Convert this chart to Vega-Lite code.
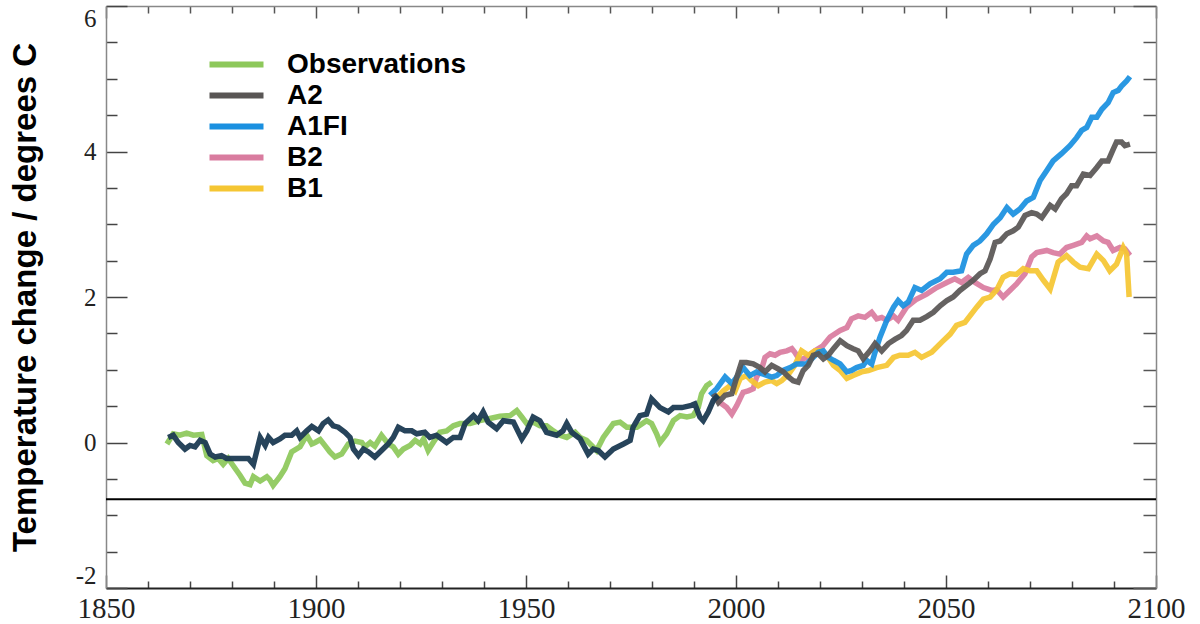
{
"$schema":"https://vega.github.io/schema/vega-lite/v6.json",
"width":1050,"height":582,
"autosize":{"type":"none"},
"padding":{"left":106,"top":6,"right":44,"bottom":36},
"background":"white",
"config":{"view":{"stroke":null},"axis":{"grid":false}},
"datasets":{
"obs":[
{"series":"Observations","year":1864.5,"temp":-0.02},{"series":"Observations","year":1866,"temp":0.12},{"series":"Observations","year":1867.6,"temp":0.10},{"series":"Observations","year":1869.2,"temp":0.13},{"series":"Observations","year":1870.8,"temp":0.10},{"series":"Observations","year":1872.8,"temp":0.11},{"series":"Observations","year":1874,"temp":-0.18},{"series":"Observations","year":1875.5,"temp":-0.25},{"series":"Observations","year":1876.7,"temp":-0.22},{"series":"Observations","year":1877.9,"temp":-0.30},{"series":"Observations","year":1879.1,"temp":-0.22},{"series":"Observations","year":1880.3,"temp":-0.32},{"series":"Observations","year":1881.9,"temp":-0.45},{"series":"Observations","year":1883.1,"temp":-0.56},{"series":"Observations","year":1884.3,"temp":-0.58},{"series":"Observations","year":1885.1,"temp":-0.47},{"series":"Observations","year":1886.7,"temp":-0.53},{"series":"Observations","year":1888.3,"temp":-0.47},{"series":"Observations","year":1889,"temp":-0.51},{"series":"Observations","year":1889.8,"temp":-0.59},{"series":"Observations","year":1891.4,"temp":-0.47},{"series":"Observations","year":1892.6,"temp":-0.36},{"series":"Observations","year":1894.2,"temp":-0.13},{"series":"Observations","year":1896.2,"temp":-0.06},{"series":"Observations","year":1897.8,"temp":0.10},{"series":"Observations","year":1899,"temp":-0.02},{"series":"Observations","year":1899.8,"temp":0},{"series":"Observations","year":1901,"temp":0.04},{"series":"Observations","year":1902.1,"temp":-0.04},{"series":"Observations","year":1903.3,"temp":-0.13},{"series":"Observations","year":1904.5,"temp":-0.20},{"series":"Observations","year":1906.1,"temp":-0.16},{"series":"Observations","year":1907.7,"temp":-0.02},{"series":"Observations","year":1909.3,"temp":0.02},{"series":"Observations","year":1910.9,"temp":0},{"series":"Observations","year":1911.7,"temp":-0.06},{"series":"Observations","year":1912.9,"temp":0},{"series":"Observations","year":1914,"temp":-0.05},{"series":"Observations","year":1915.6,"temp":0.10},{"series":"Observations","year":1917.2,"temp":-0.02},{"series":"Observations","year":1918.4,"temp":-0.06},{"series":"Observations","year":1919.6,"temp":-0.16},{"series":"Observations","year":1920.8,"temp":-0.09},{"series":"Observations","year":1922.4,"temp":-0.04},{"series":"Observations","year":1923.6,"temp":0.03},{"series":"Observations","year":1924.8,"temp":-0.02},{"series":"Observations","year":1925.6,"temp":0.05},{"series":"Observations","year":1926.7,"temp":-0.11},{"series":"Observations","year":1927.9,"temp":0},{"series":"Observations","year":1929.5,"temp":0.14},{"series":"Observations","year":1931.1,"temp":0.16},{"series":"Observations","year":1932.7,"temp":0.23},{"series":"Observations","year":1934.3,"temp":0.26},{"series":"Observations","year":1936.7,"temp":0.26},{"series":"Observations","year":1939,"temp":0.30},{"series":"Observations","year":1941.4,"temp":0.33},{"series":"Observations","year":1943.8,"temp":0.36},{"series":"Observations","year":1946.2,"temp":0.37},{"series":"Observations","year":1947.8,"temp":0.44},{"series":"Observations","year":1949,"temp":0.35},{"series":"Observations","year":1950.2,"temp":0.26},{"series":"Observations","year":1951.7,"temp":0.28},{"series":"Observations","year":1953.3,"temp":0.23},{"series":"Observations","year":1954.9,"temp":0.23},{"series":"Observations","year":1956.5,"temp":0.16},{"series":"Observations","year":1958.1,"temp":0.10},{"series":"Observations","year":1959.7,"temp":0.07},{"series":"Observations","year":1961.7,"temp":0.14},{"series":"Observations","year":1962.9,"temp":0.07},{"series":"Observations","year":1964.4,"temp":0.03},{"series":"Observations","year":1966.8,"temp":-0.11},{"series":"Observations","year":1968.4,"temp":0.07},{"series":"Observations","year":1970.8,"temp":0.26},{"series":"Observations","year":1972.4,"temp":0.28},{"series":"Observations","year":1974,"temp":0.21},{"series":"Observations","year":1976.4,"temp":0.21},{"series":"Observations","year":1978.7,"temp":0.30},{"series":"Observations","year":1979.9,"temp":0.26},{"series":"Observations","year":1981.1,"temp":0.12},{"series":"Observations","year":1981.9,"temp":0},{"series":"Observations","year":1983.5,"temp":0.12},{"series":"Observations","year":1985.1,"temp":0.30},{"series":"Observations","year":1986.7,"temp":0.37},{"series":"Observations","year":1988.3,"temp":0.35},{"series":"Observations","year":1989.8,"temp":0.37},{"series":"Observations","year":1991,"temp":0.48},{"series":"Observations","year":1991.8,"temp":0.67},{"series":"Observations","year":1993,"temp":0.78},{"series":"Observations","year":1994.2,"temp":0.83},
{"series":"B2","year":1994.6,"temp":0.67},{"series":"B2","year":1996.2,"temp":0.55},{"series":"B2","year":1997.8,"temp":0.48},{"series":"B2","year":1999.0,"temp":0.39},{"series":"B2","year":2000.2,"temp":0.51},{"series":"B2","year":2001.7,"temp":0.69},{"series":"B2","year":2002.9,"temp":0.71},{"series":"B2","year":2004.1,"temp":0.74},{"series":"B2","year":2004.9,"temp":0.90},{"series":"B2","year":2006.1,"temp":1.01},{"series":"B2","year":2006.9,"temp":1.17},{"series":"B2","year":2008.1,"temp":1.22},{"series":"B2","year":2009.3,"temp":1.20},{"series":"B2","year":2010.5,"temp":1.24},{"series":"B2","year":2012.1,"temp":1.26},{"series":"B2","year":2013.3,"temp":1.29},{"series":"B2","year":2014.0,"temp":1.24},{"series":"B2","year":2015.2,"temp":1.13},{"series":"B2","year":2016.8,"temp":1.17},{"series":"B2","year":2018.8,"temp":1.26},{"series":"B2","year":2020.7,"temp":1.33},{"series":"B2","year":2022.4,"temp":1.45},{"series":"B2","year":2024.8,"temp":1.54},{"series":"B2","year":2026.4,"temp":1.58},{"series":"B2","year":2027.5,"temp":1.70},{"series":"B2","year":2029.1,"temp":1.74},{"series":"B2","year":2030.7,"temp":1.72},{"series":"B2","year":2032.3,"temp":1.79},{"series":"B2","year":2033.5,"temp":1.70},{"series":"B2","year":2034.7,"temp":1.72},{"series":"B2","year":2035.9,"temp":1.68},{"series":"B2","year":2037.5,"temp":1.74},{"series":"B2","year":2038.6,"temp":1.68},{"series":"B2","year":2040.6,"temp":1.86},{"series":"B2","year":2043.0,"temp":1.97},{"series":"B2","year":2045.4,"temp":2.04},{"series":"B2","year":2047.8,"temp":2.13},{"series":"B2","year":2050.2,"temp":2.20},{"series":"B2","year":2052.1,"temp":2.25},{"series":"B2","year":2053.7,"temp":2.20},{"series":"B2","year":2055.3,"temp":2.27},{"series":"B2","year":2056.9,"temp":2.20},{"series":"B2","year":2058.9,"temp":2.13},{"series":"B2","year":2060.9,"temp":2.09},{"series":"B2","year":2062.1,"temp":2.10},{"series":"B2","year":2063.6,"temp":2.00},{"series":"B2","year":2065.2,"temp":2.09},{"series":"B2","year":2066.8,"temp":2.18},{"series":"B2","year":2068.8,"temp":2.32},{"series":"B2","year":2070.4,"temp":2.55},{"series":"B2","year":2071.6,"temp":2.61},{"series":"B2","year":2074.0,"temp":2.64},{"series":"B2","year":2075.5,"temp":2.61},{"series":"B2","year":2077.1,"temp":2.59},{"series":"B2","year":2078.7,"temp":2.68},{"series":"B2","year":2080.3,"temp":2.71},{"series":"B2","year":2082.3,"temp":2.75},{"series":"B2","year":2083.5,"temp":2.84},{"series":"B2","year":2084.3,"temp":2.80},{"series":"B2","year":2085.9,"temp":2.84},{"series":"B2","year":2087.5,"temp":2.77},{"series":"B2","year":2088.6,"temp":2.75},{"series":"B2","year":2089.8,"temp":2.64},{"series":"B2","year":2091.4,"temp":2.68},{"series":"B2","year":2092.6,"temp":2.66},{"series":"B2","year":2093.8,"temp":2.57},
{"series":"B1","year":1995.4,"temp":0.62},{"series":"B1","year":1997.0,"temp":0.71},{"series":"B1","year":1998.6,"temp":0.78},{"series":"B1","year":1999.8,"temp":0.71},{"series":"B1","year":2001.0,"temp":0.88},{"series":"B1","year":2002.5,"temp":0.92},{"series":"B1","year":2003.7,"temp":0.85},{"series":"B1","year":2005.3,"temp":0.78},{"series":"B1","year":2006.9,"temp":0.83},{"series":"B1","year":2008.5,"temp":0.85},{"series":"B1","year":2009.7,"temp":0.81},{"series":"B1","year":2010.9,"temp":0.85},{"series":"B1","year":2012.5,"temp":0.94},{"series":"B1","year":2014.0,"temp":1.06},{"series":"B1","year":2015.6,"temp":1.26},{"series":"B1","year":2017.2,"temp":1.20},{"series":"B1","year":2018.8,"temp":1.26},{"series":"B1","year":2020.0,"temp":1.26},{"series":"B1","year":2021.6,"temp":1.20},{"series":"B1","year":2023.2,"temp":1.06},{"series":"B1","year":2024.8,"temp":0.99},{"series":"B1","year":2026.4,"temp":0.88},{"series":"B1","year":2027.9,"temp":0.92},{"series":"B1","year":2029.9,"temp":0.97},{"series":"B1","year":2031.5,"temp":0.99},{"series":"B1","year":2033.5,"temp":1.03},{"series":"B1","year":2035.9,"temp":1.06},{"series":"B1","year":2037.5,"temp":1.17},{"series":"B1","year":2039.0,"temp":1.20},{"series":"B1","year":2041.0,"temp":1.20},{"series":"B1","year":2042.6,"temp":1.24},{"series":"B1","year":2044.2,"temp":1.17},{"series":"B1","year":2046.6,"temp":1.24},{"series":"B1","year":2049.0,"temp":1.38},{"series":"B1","year":2051.0,"temp":1.49},{"series":"B1","year":2052.5,"temp":1.61},{"series":"B1","year":2054.5,"temp":1.65},{"series":"B1","year":2055.7,"temp":1.74},{"series":"B1","year":2057.3,"temp":1.86},{"series":"B1","year":2058.9,"temp":1.97},{"series":"B1","year":2060.5,"temp":2.00},{"series":"B1","year":2062.1,"temp":2.10},{"series":"B1","year":2063.6,"temp":2.27},{"series":"B1","year":2065.2,"temp":2.32},{"series":"B1","year":2066.8,"temp":2.31},{"series":"B1","year":2068.4,"temp":2.39},{"series":"B1","year":2070.0,"temp":2.36},{"series":"B1","year":2071.6,"temp":2.36},{"series":"B1","year":2073.2,"temp":2.23},{"series":"B1","year":2074.8,"temp":2.11},{"series":"B1","year":2076.7,"temp":2.48},{"series":"B1","year":2078.7,"temp":2.57},{"series":"B1","year":2080.3,"temp":2.48},{"series":"B1","year":2081.9,"temp":2.41},{"series":"B1","year":2083.9,"temp":2.39},{"series":"B1","year":2085.9,"temp":2.59},{"series":"B1","year":2087.5,"temp":2.50},{"series":"B1","year":2089.0,"temp":2.36},{"series":"B1","year":2090.6,"temp":2.45},{"series":"B1","year":2092.2,"temp":2.68},{"series":"B1","year":2093.0,"temp":2.59},{"series":"B1","year":2093.6,"temp":2.00},
{"series":"A1FI","year":1993.8,"temp":0.65},{"series":"A1FI","year":1995.4,"temp":0.74},{"series":"A1FI","year":1997.4,"temp":0.90},{"series":"A1FI","year":1999.0,"temp":0.81},{"series":"A1FI","year":2000.2,"temp":0.90},{"series":"A1FI","year":2001.7,"temp":1.03},{"series":"A1FI","year":2003.3,"temp":0.92},{"series":"A1FI","year":2004.9,"temp":0.97},{"series":"A1FI","year":2006.5,"temp":0.94},{"series":"A1FI","year":2008.5,"temp":0.90},{"series":"A1FI","year":2009.7,"temp":0.92},{"series":"A1FI","year":2011.2,"temp":0.99},{"series":"A1FI","year":2012.9,"temp":1.03},{"series":"A1FI","year":2014.4,"temp":1.08},{"series":"A1FI","year":2016.8,"temp":1.08},{"series":"A1FI","year":2018.4,"temp":1.17},{"series":"A1FI","year":2019.6,"temp":1.24},{"series":"A1FI","year":2020.8,"temp":1.26},{"series":"A1FI","year":2022.0,"temp":1.17},{"series":"A1FI","year":2023.2,"temp":1.13},{"series":"A1FI","year":2024.8,"temp":1.08},{"series":"A1FI","year":2026.4,"temp":0.97},{"series":"A1FI","year":2027.5,"temp":0.99},{"series":"A1FI","year":2028.7,"temp":1.03},{"series":"A1FI","year":2030.3,"temp":1.06},{"series":"A1FI","year":2031.1,"temp":1.13},{"series":"A1FI","year":2032.3,"temp":1.08},{"series":"A1FI","year":2033.1,"temp":1.24},{"series":"A1FI","year":2034.3,"temp":1.45},{"series":"A1FI","year":2035.9,"temp":1.68},{"series":"A1FI","year":2037.5,"temp":1.86},{"series":"A1FI","year":2038.6,"temp":1.95},{"series":"A1FI","year":2039.8,"temp":1.88},{"series":"A1FI","year":2041.0,"temp":1.93},{"series":"A1FI","year":2042.6,"temp":2.13},{"series":"A1FI","year":2044.2,"temp":2.09},{"series":"A1FI","year":2046.2,"temp":2.18},{"series":"A1FI","year":2048.6,"temp":2.25},{"series":"A1FI","year":2050.2,"temp":2.34},{"series":"A1FI","year":2051.7,"temp":2.34},{"series":"A1FI","year":2053.7,"temp":2.36},{"series":"A1FI","year":2054.9,"temp":2.59},{"series":"A1FI","year":2056.5,"temp":2.71},{"series":"A1FI","year":2058.1,"temp":2.77},{"series":"A1FI","year":2059.7,"temp":2.87},{"series":"A1FI","year":2061.3,"temp":3.00},{"series":"A1FI","year":2062.9,"temp":3.09},{"series":"A1FI","year":2064.5,"temp":3.23},{"series":"A1FI","year":2066.0,"temp":3.14},{"series":"A1FI","year":2067.6,"temp":3.21},{"series":"A1FI","year":2069.2,"temp":3.32},{"series":"A1FI","year":2070.8,"temp":3.37},{"series":"A1FI","year":2072.4,"temp":3.60},{"series":"A1FI","year":2074.0,"temp":3.74},{"series":"A1FI","year":2075.5,"temp":3.87},{"series":"A1FI","year":2077.5,"temp":3.97},{"series":"A1FI","year":2079.5,"temp":4.08},{"series":"A1FI","year":2081.1,"temp":4.19},{"series":"A1FI","year":2082.3,"temp":4.29},{"series":"A1FI","year":2083.5,"temp":4.33},{"series":"A1FI","year":2084.7,"temp":4.47},{"series":"A1FI","year":2085.9,"temp":4.47},{"series":"A1FI","year":2087.1,"temp":4.58},{"series":"A1FI","year":2088.6,"temp":4.67},{"series":"A1FI","year":2089.8,"temp":4.81},{"series":"A1FI","year":2091.0,"temp":4.84},{"series":"A1FI","year":2091.8,"temp":4.90},{"series":"A1FI","year":2093.0,"temp":4.97},{"series":"A1FI","year":2093.8,"temp":5.03},
{"series":"A2","year":1994.6,"temp":0.67},{"series":"A2","year":1995.8,"temp":0.55},{"series":"A2","year":1997.4,"temp":0.65},{"series":"A2","year":1999.0,"temp":0.67},{"series":"A2","year":2000.2,"temp":0.90},{"series":"A2","year":2001.3,"temp":1.10},{"series":"A2","year":2002.5,"temp":1.10},{"series":"A2","year":2004.1,"temp":1.08},{"series":"A2","year":2005.7,"temp":1.03},{"series":"A2","year":2006.9,"temp":0.97},{"series":"A2","year":2008.5,"temp":1.06},{"series":"A2","year":2010.1,"temp":1.01},{"series":"A2","year":2011.3,"temp":0.97},{"series":"A2","year":2012.5,"temp":0.90},{"series":"A2","year":2013.6,"temp":0.85},{"series":"A2","year":2014.8,"temp":0.83},{"series":"A2","year":2016.0,"temp":0.99},{"series":"A2","year":2017.2,"temp":1.06},{"series":"A2","year":2018.4,"temp":1.20},{"series":"A2","year":2019.6,"temp":1.22},{"series":"A2","year":2020.8,"temp":1.15},{"series":"A2","year":2022.0,"temp":1.20},{"series":"A2","year":2023.2,"temp":1.29},{"series":"A2","year":2024.8,"temp":1.40},{"series":"A2","year":2026.4,"temp":1.33},{"series":"A2","year":2027.9,"temp":1.29},{"series":"A2","year":2029.1,"temp":1.26},{"series":"A2","year":2030.3,"temp":1.15},{"series":"A2","year":2031.9,"temp":1.26},{"series":"A2","year":2033.1,"temp":1.36},{"series":"A2","year":2034.7,"temp":1.26},{"series":"A2","year":2036.3,"temp":1.36},{"series":"A2","year":2037.9,"temp":1.42},{"series":"A2","year":2039.4,"temp":1.47},{"series":"A2","year":2040.6,"temp":1.54},{"series":"A2","year":2042.2,"temp":1.68},{"series":"A2","year":2043.8,"temp":1.68},{"series":"A2","year":2045.4,"temp":1.73},{"series":"A2","year":2047.0,"temp":1.79},{"series":"A2","year":2048.6,"temp":1.88},{"series":"A2","year":2050.2,"temp":1.95},{"series":"A2","year":2051.7,"temp":2.00},{"series":"A2","year":2053.3,"temp":2.09},{"series":"A2","year":2054.9,"temp":2.16},{"series":"A2","year":2056.5,"temp":2.23},{"series":"A2","year":2058.1,"temp":2.32},{"series":"A2","year":2059.3,"temp":2.36},{"series":"A2","year":2060.5,"temp":2.52},{"series":"A2","year":2061.7,"temp":2.75},{"series":"A2","year":2062.9,"temp":2.77},{"series":"A2","year":2064.5,"temp":2.87},{"series":"A2","year":2066.0,"temp":2.91},{"series":"A2","year":2067.2,"temp":2.96},{"series":"A2","year":2068.8,"temp":3.12},{"series":"A2","year":2070.4,"temp":3.16},{"series":"A2","year":2071.6,"temp":3.14},{"series":"A2","year":2072.8,"temp":3.09},{"series":"A2","year":2074.8,"temp":3.26},{"series":"A2","year":2076.0,"temp":3.21},{"series":"A2","year":2077.5,"temp":3.35},{"series":"A2","year":2078.7,"temp":3.42},{"series":"A2","year":2079.9,"temp":3.53},{"series":"A2","year":2081.1,"temp":3.53},{"series":"A2","year":2082.7,"temp":3.69},{"series":"A2","year":2084.3,"temp":3.67},{"series":"A2","year":2085.9,"temp":3.78},{"series":"A2","year":2087.1,"temp":3.87},{"series":"A2","year":2088.6,"temp":3.87},{"series":"A2","year":2089.8,"temp":4.03},{"series":"A2","year":2090.6,"temp":4.13},{"series":"A2","year":2091.8,"temp":4.13},{"series":"A2","year":2092.6,"temp":4.08},{"series":"A2","year":2093.8,"temp":4.10}
],
"model":[
{"series":"Model","year":1864.8,"temp":0.07},{"series":"Model","year":1866,"temp":0.10},{"series":"Model","year":1867.2,"temp":0},{"series":"Model","year":1868.8,"temp":-0.09},{"series":"Model","year":1870,"temp":-0.04},{"series":"Model","year":1871.2,"temp":-0.06},{"series":"Model","year":1872.4,"temp":0.03},{"series":"Model","year":1873.6,"temp":0},{"series":"Model","year":1874.8,"temp":-0.16},{"series":"Model","year":1876,"temp":-0.20},{"series":"Model","year":1877.5,"temp":-0.18},{"series":"Model","year":1878.7,"temp":-0.22},{"series":"Model","year":1881.1,"temp":-0.22},{"series":"Model","year":1883.9,"temp":-0.22},{"series":"Model","year":1885.1,"temp":-0.30},{"series":"Model","year":1886.7,"temp":0.07},{"series":"Model","year":1887.9,"temp":-0.04},{"series":"Model","year":1888.7,"temp":0.07},{"series":"Model","year":1889.8,"temp":0},{"series":"Model","year":1891.4,"temp":0.05},{"series":"Model","year":1892.6,"temp":0.10},{"series":"Model","year":1894.2,"temp":0.10},{"series":"Model","year":1895.4,"temp":0.16},{"series":"Model","year":1896.2,"temp":0.07},{"series":"Model","year":1897.8,"temp":0.16},{"series":"Model","year":1899,"temp":0.22},{"series":"Model","year":1900.6,"temp":0.16},{"series":"Model","year":1901.7,"temp":0.26},{"series":"Model","year":1902.9,"temp":0.31},{"series":"Model","year":1904.1,"temp":0.23},{"series":"Model","year":1905.3,"temp":0.21},{"series":"Model","year":1906.9,"temp":0.14},{"series":"Model","year":1908.1,"temp":0.07},{"series":"Model","year":1908.9,"temp":-0.09},{"series":"Model","year":1910.1,"temp":-0.18},{"series":"Model","year":1911.3,"temp":-0.09},{"series":"Model","year":1912.5,"temp":-0.13},{"series":"Model","year":1914,"temp":-0.20},{"series":"Model","year":1915.6,"temp":-0.11},{"series":"Model","year":1917.2,"temp":-0.02},{"series":"Model","year":1918.4,"temp":0.07},{"series":"Model","year":1919.6,"temp":0.21},{"series":"Model","year":1921.2,"temp":0.16},{"series":"Model","year":1922.8,"temp":0.16},{"series":"Model","year":1924,"temp":0.12},{"series":"Model","year":1925.9,"temp":0.14},{"series":"Model","year":1927.1,"temp":0.07},{"series":"Model","year":1928.7,"temp":0.10},{"series":"Model","year":1931.1,"temp":0},{"series":"Model","year":1932.7,"temp":0.07},{"series":"Model","year":1934.3,"temp":0.07},{"series":"Model","year":1935.5,"temp":0.26},{"series":"Model","year":1937.5,"temp":0.37},{"series":"Model","year":1938.6,"temp":0.30},{"series":"Model","year":1939.8,"temp":0.42},{"series":"Model","year":1941,"temp":0.28},{"series":"Model","year":1943,"temp":0.19},{"series":"Model","year":1944.6,"temp":0.30},{"series":"Model","year":1947,"temp":0.28},{"series":"Model","year":1949,"temp":0.05},{"series":"Model","year":1950.2,"temp":0.16},{"series":"Model","year":1951.7,"temp":0.35},{"series":"Model","year":1953.3,"temp":0.30},{"series":"Model","year":1954.9,"temp":0.14},{"series":"Model","year":1957.3,"temp":0.10},{"series":"Model","year":1958.8,"temp":0.16},{"series":"Model","year":1959.7,"temp":0.26},{"series":"Model","year":1960.9,"temp":0.14},{"series":"Model","year":1962.9,"temp":0.05},{"series":"Model","year":1964.8,"temp":-0.16},{"series":"Model","year":1966,"temp":-0.09},{"series":"Model","year":1967.2,"temp":-0.11},{"series":"Model","year":1968.8,"temp":-0.20},{"series":"Model","year":1970.8,"temp":-0.09},{"series":"Model","year":1973.2,"temp":-0.02},{"series":"Model","year":1974.8,"temp":0.03},{"series":"Model","year":1975.5,"temp":0.21},{"series":"Model","year":1977.1,"temp":0.37},{"series":"Model","year":1978.7,"temp":0.39},{"series":"Model","year":1979.9,"temp":0.60},{"series":"Model","year":1981.9,"temp":0.48},{"series":"Model","year":1983.9,"temp":0.42},{"series":"Model","year":1985.1,"temp":0.48},{"series":"Model","year":1987.1,"temp":0.48},{"series":"Model","year":1989.4,"temp":0.51},{"series":"Model","year":1990.2,"temp":0.53},{"series":"Model","year":1991.4,"temp":0.35},{"series":"Model","year":1992.2,"temp":0.30},{"series":"Model","year":1993.4,"temp":0.42},{"series":"Model","year":1994.6,"temp":0.58},{"series":"Model","year":1995.8,"temp":0.65}
],
"ref":[{"level":-0.78}]
},
"layer":[
{"data":{"name":"obs"},
 "mark":{"type":"line","strokeWidth":5.5,"opacity":0.93},
 "encoding":{
  "x":{"field":"year","type":"quantitative","scale":{"domain":[1850,2100],"nice":false,"zero":false},
   "axis":{"orient":"bottom","title":null,"values":[1850,1860,1870,1880,1890,1900,1910,1920,1930,1940,1950,1960,1970,1980,1990,2000,2010,2020,2030,2040,2050,2060,2070,2080,2090,2100],"format":"d","labelExpr":"datum.value % 50 === 0 ? datum.label : ''","tickSize":{"condition":{"test":"datum.value % 50 === 0","value":-13},"value":-7},"tickColor":"#444","tickWidth":1.5,"domainColor":"#222","domainWidth":2,"labelFont":"Liberation Serif","labelFontSize":29,"labelColor":"#222","labelPadding":19,"labelBaseline":"top","labelFlush":false,"labelOverlap":false,"labelBound":false,"grid":false}},
  "y":{"field":"temp","type":"quantitative","scale":{"domain":[-2,6],"nice":false,"zero":false},
   "axis":{"orient":"left","values":[-2,-1.5,-1,-0.5,0,0.5,1,1.5,2,2.5,3,3.5,4,4.5,5,5.5,6],"labelExpr":"datum.value % 2 === 0 ? toString(datum.value) : ''","tickSize":{"condition":{"test":"datum.value % 2 === 0","value":-21},"value":-11},"tickColor":"#444","tickWidth":1.5,"domainColor":"#888","domainWidth":1.5,"labelFont":"Liberation Serif","labelFontSize":25,"labelColor":"#222","labelPadding":31,"labelFlush":true,"labelOverlap":false,"grid":false,"title":"Temperature change / degrees C","titleFont":"Liberation Sans","titleFontWeight":"bold","titleFontSize":33,"titleColor":"black","titleAngle":-90,"titleX":-71,"titleY":291,"titleAlign":"center","titleBaseline":"alphabetic"}},
  "color":{"field":"series","type":"nominal","scale":{"domain":["Observations","A2","A1FI","B2","B1"],"range":["#8dc85a","#595655","#1a90e0","#d97c9f","#f5c633"]},
   "legend":{"orient":"none","legendX":114,"legendY":42,"title":null,"padding":0,"symbolType":"M-2,0H2","symbolSize":729,"symbolStrokeWidth":6,"symbolOpacity":1,"symbolFillColor":"transparent","labelFont":"Liberation Sans","labelFontWeight":"bold","labelFontSize":28,"labelColor":"black","labelOffset":34,"rowPadding":0,"labelLimit":400}}
 }},
{"data":{"name":"model"},
 "mark":{"type":"line","strokeWidth":5.5,"color":"#1b3a52","opacity":0.95},
 "encoding":{
  "x":{"field":"year","type":"quantitative","axis":{"orient":"top","title":null,"labels":false,"values":[1850,1860,1870,1880,1890,1900,1910,1920,1930,1940,1950,1960,1970,1980,1990,2000,2010,2020,2030,2040,2050,2060,2070,2080,2090,2100],"tickSize":{"condition":{"test":"datum.value % 50 === 0","value":-12},"value":-7},"tickColor":"#555","tickWidth":1.5,"domainColor":"#888","domainWidth":1.5,"grid":false}},
  "y":{"field":"temp","type":"quantitative","axis":{"orient":"right","title":null,"labels":false,"values":[-2,-1.5,-1,-0.5,0,0.5,1,1.5,2,2.5,3,3.5,4,4.5,5,5.5,6],"tickSize":{"condition":{"test":"datum.value % 2 === 0","value":-23},"value":-13},"tickColor":"#555","tickWidth":1.5,"domainColor":"#888","domainWidth":1.5,"grid":false}}
 }},
{"data":{"name":"ref"},
 "mark":{"type":"rule","color":"black","strokeWidth":2},
 "encoding":{"y":{"field":"level","type":"quantitative","axis":null}}}
],
"resolve":{"axis":{"x":"independent","y":"independent"}}
}
